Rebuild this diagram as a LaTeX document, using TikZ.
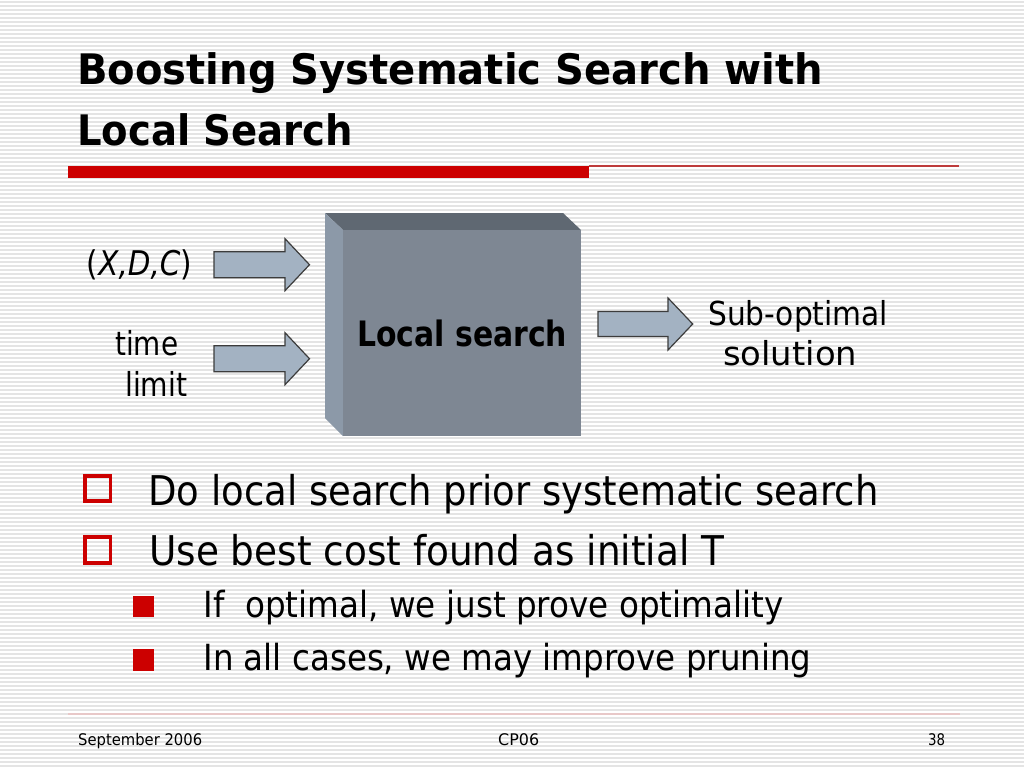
\documentclass[tikz,border=0pt]{standalone}
\usepackage{fontspec}
\setmainfont{DejaVu Sans}
\usepackage{graphicx}
\definecolor{redc}{RGB}{204,0,0}
\definecolor{redline}{RGB}{190,60,60}
\definecolor{footline}{RGB}{232,200,200}
\definecolor{stripec}{RGB}{228,228,228}
\definecolor{arrowfill}{RGB}{163,178,194}
\definecolor{arrowline}{RGB}{60,60,60}
\definecolor{cubefront}{RGB}{126,135,147}
\definecolor{cubetop}{RGB}{95,104,114}
\definecolor{cubeleft}{RGB}{140,153,168}
\newsavebox\fitbox
\newcommand\fitw[2]{\sbox\fitbox{#2}\pgfmathsetmacro\fitf{#1/\the\wd\fitbox}\scalebox{\fitf}[1]{\usebox\fitbox}}
\newcommand\barrow[6]{\draw[blockarrow] (#1,#4-#5) -- (#2,#4-#5) -- (#2,#4-#6) -- (#3,#4) -- (#2,#4+#6) -- (#2,#4+#5) -- (#1,#4+#5) -- cycle;}
\begin{document}
\begin{tikzpicture}[x=1pt,y=-1pt,
  txt/.style={inner sep=0pt, anchor=base west},
  stripe/.style={draw=stripec, line width=1.6pt},
  blockarrow/.style={fill=arrowfill, draw=arrowline, line width=1.2pt, line join=miter},
  titlef/.style={font=\fontsize{42}{48}\selectfont\bfseries},
  bodyf/.style={font=\fontsize{41}{48}\selectfont},
  subf/.style={font=\fontsize{36}{42}\selectfont},
  diagf/.style={font=\fontsize{33}{40}\selectfont},
  footf/.style={font=\fontsize{16}{19}\selectfont},
]
\useasboundingbox (0,0) rectangle (1024,768);
\fill[white] (0,0) rectangle (1024,768);
\foreach \i in {0,...,191} \draw[stripe] (0,\i*4+2) -- (1024,\i*4+2);

% title
\node[txt, titlef] (t1) at (77,84.5) {\fitw{746}{Boosting Systematic Search with}};
\node[txt, titlef] (t2) at (77,145) {\fitw{276}{Local Search}};
\fill[redc] (68,165.5) rectangle (589,178);
\draw[redline, line width=1.2pt] (589,166) -- (959,166);

% cube
\fill[cubetop] (325,213) -- (563,213) -- (581,230) -- (343,230) -- cycle;
\fill[cubeleft] (325,213) -- (343,230) -- (343,436) -- (325,418) -- cycle;
\node[fill=cubefront, minimum width=238pt, minimum height=206pt, anchor=north west, inner sep=0pt] (box) at (343,230) {};
\node[txt, font=\fontsize{35}{40}\selectfont\bfseries] (lbl) at (357,346.7) {\fitw{210}{Local search}};

% arrows
\barrow{214}{285}{309.5}{264.7}{13}{26}
\barrow{214}{285}{309.5}{358.7}{13}{26}
\barrow{598}{668}{692.7}{324}{12.5}{26}

% diagram labels
\node[txt, font=\fontsize{34}{40}\selectfont] (xdc) at (86.7,275) {\fitw{105}{(\textit{X,D,C})}};
\node[txt, diagf] (time) at (115,355) {\fitw{63}{time}};
\node[txt, diagf] (limit) at (125,396.7) {\fitw{62}{limit}};
\node[txt, diagf] (sub) at (708,325.7) {\fitw{180}{Sub-optimal}};
\node[txt, diagf] (sol) at (723,365) {\fitw{134}{solution}};

% bullets
\draw[redc, line width=3.6pt] (84.7,476) rectangle (110.3,501);
\draw[redc, line width=3.6pt] (84.7,537) rectangle (110.3,563);
\fill[redc] (133,596) rectangle (154,617);
\fill[redc] (133,649.3) rectangle (154,670.7);
\node[txt, bodyf] (b1) at (148.3,505) {\fitw{730}{Do local search prior systematic search}};
\node[txt, bodyf] (b2) at (149,565) {\fitw{575}{Use best cost found as initial T}};
\node[txt, subf] (s1) at (203.3,617) {\fitw{580}{If\ \ optimal, we just prove optimality}};
\node[txt, subf] (s2) at (203.3,670) {\fitw{608}{In all cases, we may improve pruning}};

% footer
\draw[footline, line width=1.2pt] (68,714) -- (960,714);
\node[txt, footf] (f1) at (78,745) {\fitw{124}{September 2006}};
\node[txt, footf] (f2) at (498,745) {\fitw{41}{CP06}};
\node[txt, footf] (f3) at (928,745) {\fitw{17}{38}};
\end{tikzpicture}
\end{document}
